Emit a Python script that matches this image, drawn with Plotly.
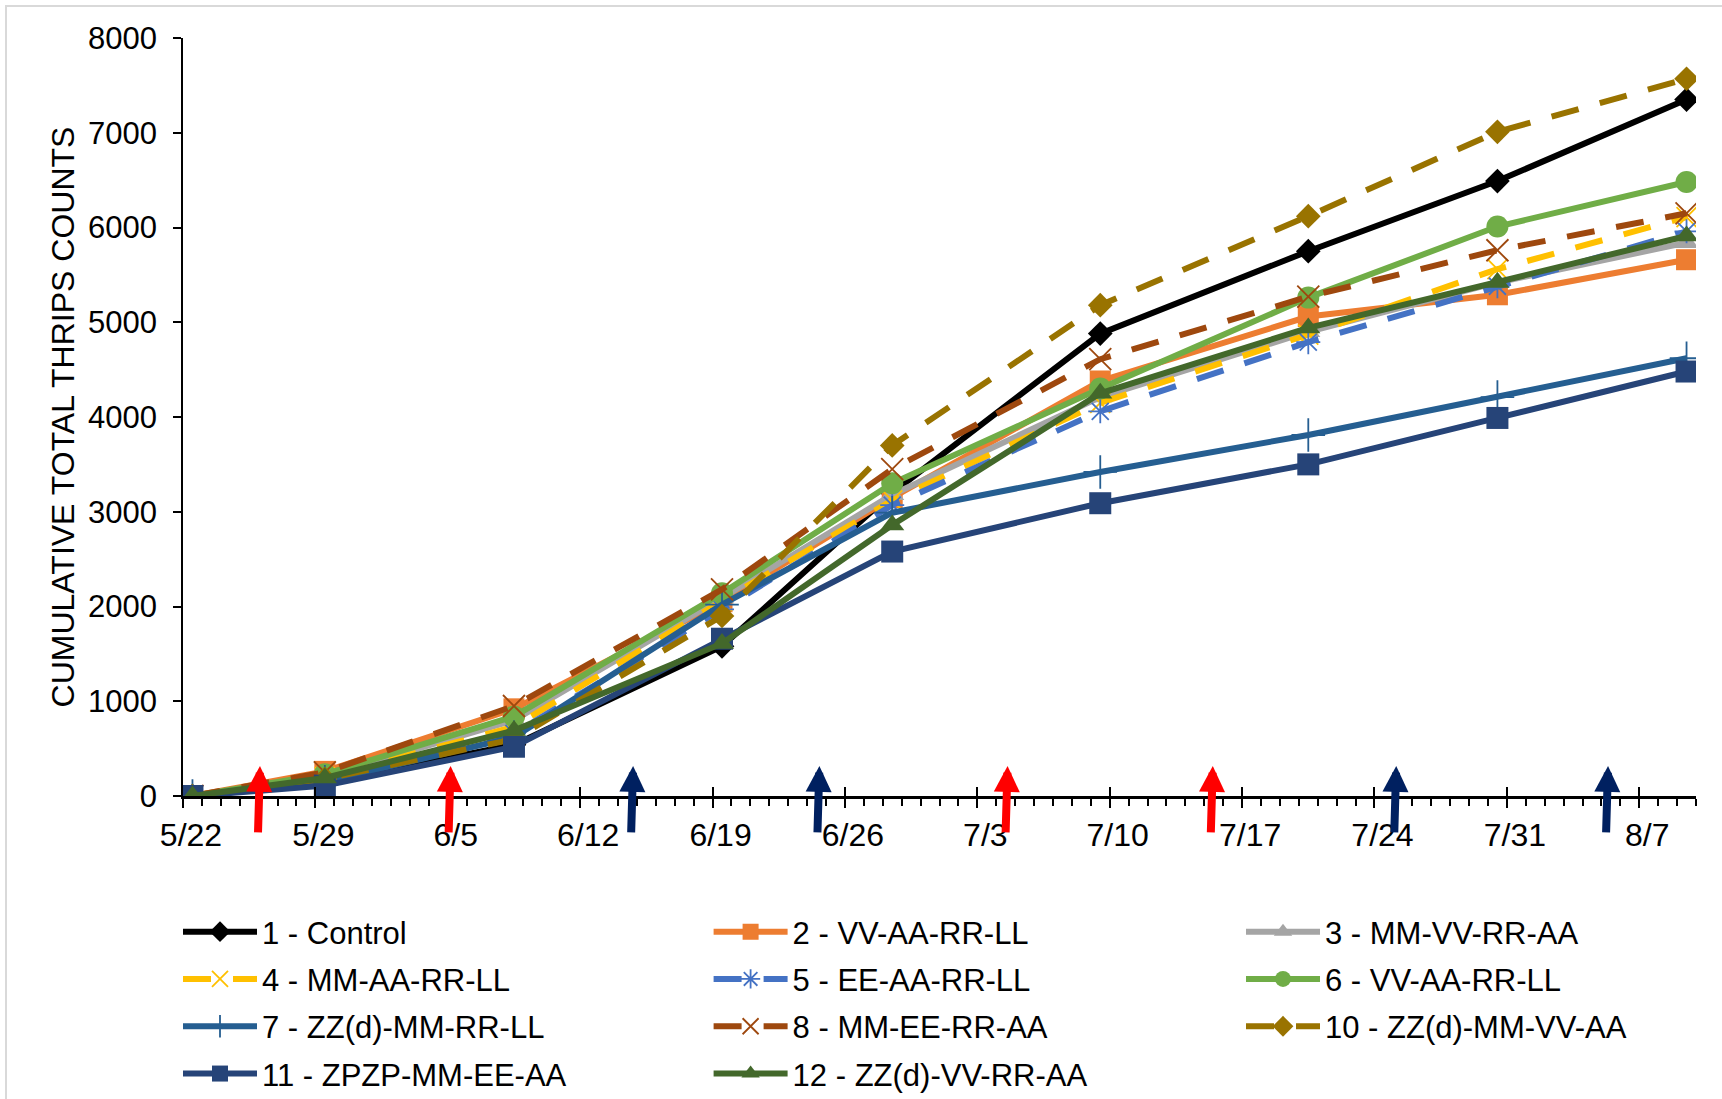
import plotly.graph_objects as go
import pandas as pd

# ---------------- data ----------------
dates = ["2020-05-22", "2020-05-29", "2020-06-08", "2020-06-19", "2020-06-28",
         "2020-07-09", "2020-07-20", "2020-07-30", "2020-08-09"]

s1 = [0, 140, 540, 1580, 3200, 4880, 5750, 6490, 7350]
s2 = [0, 260, 920, 2050, 3150, 4380, 5060, 5290, 5660]
s3 = [0, 210, 800, 2090, 3180, 4210, 4900, 5420, 5840]
s4 = [0, 200, 730, 2060, 3120, 4150, 4870, 5560, 6110]
s5 = [0, 170, 660, 1970, 3070, 4060, 4790, 5380, 5960]
s6 = [0, 230, 840, 2140, 3300, 4300, 5260, 6010, 6480]
s7 = [0, 150, 620, 2020, 2990, 3420, 3810, 4210, 4620]
s8 = [0, 250, 950, 2180, 3450, 4610, 5270, 5760, 6150]
s10 = [0, 180, 600, 1900, 3700, 5180, 6120, 7010, 7570]
s11 = [0, 110, 520, 1660, 2580, 3090, 3500, 3990, 4480]
s12 = [0, 190, 690, 1610, 2860, 4250, 4940, 5420, 5910]

names = ["1 - Control", "2 - VV-AA-RR-LL", "3 - MM-VV-RR-AA",
         "4 - MM-AA-RR-LL", "5 - EE-AA-RR-LL", "6 - VV-AA-RR-LL",
         "7 - ZZ(d)-MM-RR-LL", "8 - MM-EE-RR-AA", "10 - ZZ(d)-MM-VV-AA",
         "11 - ZPZP-MM-EE-AA", "12 - ZZ(d)-VV-RR-AA"]
series = [s1, s2, s3, s4, s5, s6, s7, s8, s10, s11, s12]

# spray arrows: days after 5/22 and colour group
arrow_days = [4.07, 14.15, 23.8, 33.65, 43.6, 54.45, 64.15, 75.35]
arrow_kind = ["red", "red", "navy", "navy", "red", "red", "navy", "navy"]

y_ticks = [0, 1000, 2000, 3000, 4000, 5000, 6000, 7000, 8000]

# ---------------- styles ----------------
colors = ["#000000", "#ED7D31", "#A5A5A5", "#FFC000", "#4472C4", "#70AD47",
          "#255E91", "#9E480E", "#997300", "#264478", "#43682B"]
symbols = ["diamond", "square", "triangle-up", "x-thin", "asterisk", "circle",
           "cross-thin", "x-thin", "diamond", "square", "triangle-up"]
msizes = [19, 21, 21, 20, 20, 22, 24, 22, 19, 22, 21]
dashes = ["solid", "solid", "solid", "28px,22px", "28px,22px", "solid",
          "solid", "28px,22px", "28px,22px", "solid", "solid"]
# legend laid out in three columns (row-major order of the reference)
legend_of = ["legend", "legend2", "legend3",
             "legend", "legend2", "legend3",
             "legend", "legend2", "legend3",
             "legend", "legend2"]
thin = {"x-thin", "asterisk", "cross-thin"}

W, H = 1722, 1099
L, R, T, B = 183, 26, 38, 303
pw, ph = W - L - R, H - T - B

x = pd.to_datetime(dates) + pd.Timedelta(hours=12)  # Excel plots points mid-day

fig = go.Figure()
for i, (nm, ys) in enumerate(zip(names, series)):
    mk = dict(symbol=symbols[i], size=msizes[i], color=colors[i])
    if symbols[i] in thin:
        mk["line"] = dict(color=colors[i], width=1.8)
    fig.add_trace(go.Scatter(
        x=x, y=ys, name=nm, mode="lines+markers",
        line=dict(color=colors[i], width=6, dash=dashes[i]),
        marker=mk, legend=legend_of[i], legendgroup=f"g{i}",
    ))

# overlay axis for the upward half of the crossing major ticks
fig.add_trace(go.Scatter(x=[], y=[], xaxis="x2", yaxis="y", showlegend=False,
                         hoverinfo="skip"))

start = pd.Timestamp("2020-05-22")
end = pd.Timestamp("2020-08-10")
week = 7 * 86400000
day = 86400000
font = "Liberation Sans, Arial, sans-serif"

for d, k in zip(arrow_days, arrow_kind):
    c = "#FF0000" if k == "red" else "#002060"
    fig.add_annotation(
        x=start + pd.Timedelta(days=d), y=317, xref="x", yref="y",
        ax=-2, ay=68, axref="pixel", ayref="pixel",
        showarrow=True, arrowhead=2, arrowsize=0.65, arrowwidth=8,
        arrowcolor=c, text="", standoff=0,
    )

fig.update_layout(
    width=W, height=H,
    margin=dict(l=L, r=R, t=T, b=B, autoexpand=False),
    paper_bgcolor="white", plot_bgcolor="white",
    font=dict(family=font, size=31, color="black"),
    showlegend=True,
    xaxis=dict(
        type="date", range=[start, end],
        tickmode="linear", tick0=start, dtick=week, tickformat="%-m/%-d",
        ticks="outside", ticklen=9, tickwidth=2, tickcolor="black",
        minor=dict(ticks="outside", ticklen=7, tickwidth=1.5, tickcolor="black",
                   dtick=day, tick0=start, showgrid=False),
        showline=True, linecolor="black", linewidth=2.5,
        showgrid=False, zeroline=False,
        tickfont=dict(size=32, family=font, color="black"),
        ticklabelshift=8, ticklabelstandoff=0,
    ),
    xaxis2=dict(
        type="date", overlaying="x", matches="x", anchor="y", side="bottom",
        tickmode="linear", tick0=start, dtick=week,
        ticks="inside", ticklen=9, tickwidth=2, tickcolor="black",
        showticklabels=False, showgrid=False, showline=False, zeroline=False,
    ),
    yaxis=dict(
        range=[0, 8000], tickmode="array", tickvals=y_ticks,
        ticks="outside", ticklen=8, tickwidth=1.5, tickcolor="black",
        showline=True, linecolor="black", linewidth=1.5,
        showgrid=False, zeroline=False,
        tickfont=dict(size=31, family=font, color="black"),
        ticklabelstandoff=10,
        title=dict(text="CUMULATIVE TOTAL THRIPS COUNTS",
                   font=dict(size=32, family=font, color="black"), standoff=4),
    ),
)

col_x = [178, 708.6, 1241]
top_y = 905
for j, key in enumerate(["legend", "legend2", "legend3"]):
    fig.update_layout({key: dict(
        orientation="v", x=(col_x[j] - L) / pw, xanchor="left",
        y=(H - B - top_y) / ph, yanchor="top",
        itemwidth=74,
        font=dict(size=31, family=font, color="black"),
        bgcolor="rgba(0,0,0,0)", borderwidth=0, tracegroupgap=4,
        traceorder="grouped",
    )})

# light chart-area border
fig.add_shape(type="rect", xref="paper", yref="paper",
              x0=(6 - L) / pw, x1=(W + 20 - L) / pw,
              y0=(H - B - (H + 20)) / ph, y1=(H - B - 6) / ph,
              line=dict(color="#D9D9D9", width=2), fillcolor="rgba(0,0,0,0)",
              layer="below")

fig.write_html("out.html")
